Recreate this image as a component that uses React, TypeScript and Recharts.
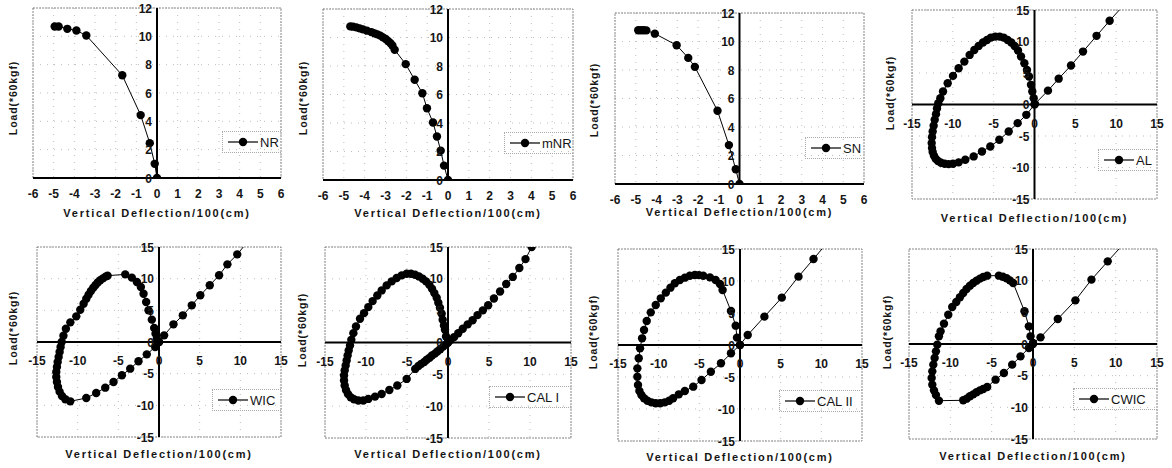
import { ScatterChart, Scatter, XAxis, YAxis, CartesianGrid, ReferenceLine, ReferenceArea, Legend } from 'recharts';

type Pt = [number, number];

// tick labels
const smallXTicks = [-6, -5, -4, -3, -2, -1, 0, 1, 2, 3, 4, 5, 6];
const smallYTicks = [0, 2, 4, 6, 8, 10, 12];
const loopTicks = [-15, -10, -5, 0, 5, 10, 15];

// series: [vertical deflection, load]
const NR: Pt[] = [
  [-4.95, 10.69], [-4.76, 10.69], [-4.34, 10.53], [-3.9, 10.41], [-3.42, 10.06],
  [-1.68, 7.25], [-0.79, 4.44], [-0.35, 2.46], [-0.11, 1.0], [0, 0],
];

const MNR: Pt[] = [
  [-4.69, 10.78], [-4.56, 10.76], [-4.4, 10.71], [-4.24, 10.64], [-4.08, 10.57],
  [-3.89, 10.48], [-3.68, 10.38], [-3.52, 10.29], [-3.39, 10.22], [-3.25, 10.13],
  [-3.12, 10.01], [-2.99, 9.89], [-2.88, 9.75], [-2.77, 9.61], [-2.67, 9.44],
  [-2.56, 9.14], [-2.03, 8.13], [-1.6, 7.03], [-1.23, 6.09], [-1.01, 5.04],
  [-0.72, 4.03], [-0.53, 3.05], [-0.35, 2.06], [-0.19, 1.01], [0, 0],
];

const SN: Pt[] = [
  [-4.88, 10.79], [-4.75, 10.79], [-4.62, 10.79], [-4.49, 10.78], [-4.08, 10.55],
  [-3.03, 9.74], [-2.47, 8.85], [-2.15, 8.22], [-1.06, 5.14], [-0.51, 2.73],
  [-0.18, 1.03], [0, 0],
];

const AL: Pt[] = [
  [0, 0], [-1.0, -1.64], [-2.06, -2.96], [-3.16, -4.28], [-4.31, -5.6], [-5.41, -6.66],
  [-6.43, -7.45], [-7.45, -8.24], [-8.47, -8.77], [-9.29, -9.19], [-9.98, -9.4],
  [-10.51, -9.46], [-11.0, -9.4], [-11.45, -9.24], [-11.82, -8.98], [-12.1, -8.61],
  [-12.31, -8.14], [-12.47, -7.55], [-12.55, -6.92], [-12.59, -6.13], [-12.55, -5.18],
  [-12.47, -4.28], [-12.35, -3.38], [-12.22, -2.43], [-12.06, -1.53], [-11.94, -0.63],
  [-11.78, 0.21], [-11.53, 1.0], [-11.2, 2.06], [-10.63, 3.38], [-9.98, 4.54],
  [-9.29, 5.76], [-8.59, 6.81], [-7.94, 7.87], [-7.37, 8.66], [-6.84, 9.3],
  [-6.31, 9.83], [-5.82, 10.25], [-5.33, 10.62], [-4.8, 10.78], [-4.27, 10.78],
  [-3.78, 10.62], [-3.29, 10.25], [-2.84, 9.83], [-2.43, 9.3], [-2.02, 8.56],
  [-1.65, 7.61], [-1.24, 6.55], [-0.92, 5.49], [-0.67, 4.44], [-0.43, 3.12],
  [-0.27, 2.06], [-0.1, 1.0], [0.06, 0.1], [1.65, 2.2], [2.96, 4.1], [4.47, 6.2],
  [5.94, 8.4], [7.6, 10.9], [9.2, 13.3], [11.5, 16.6],
];

const WIC: Pt[] = [
  [0, 0], [-0.47, -0.79], [-1.5, -1.95], [-2.52, -3.05], [-3.54, -4.21], [-4.56, -5.26],
  [-5.59, -6.32], [-6.61, -7.21], [-7.72, -8.05], [-8.94, -8.84], [-10.91, -9.37],
  [-11.52, -9.05], [-11.93, -8.53], [-12.22, -7.84], [-12.42, -7.11], [-12.55, -6.32],
  [-12.63, -5.53], [-12.63, -4.74], [-12.55, -3.95], [-12.46, -3.16], [-12.34, -2.37],
  [-12.22, -1.58], [-12.1, -0.79], [-11.97, 0], [-11.75, 1.0], [-11.45, 2.1],
  [-10.9, 3.1], [-10.17, 4.05], [-9.68, 5.1], [-9.27, 6.05], [-8.94, 6.84],
  [-8.66, 7.47], [-8.37, 8.05], [-8.08, 8.58], [-7.8, 9.0], [-7.51, 9.42],
  [-7.23, 9.74], [-6.9, 10.05], [-6.57, 10.32], [-6.32, 10.47], [-4.15, 10.68],
  [-3.34, 10.16], [-2.72, 9.47], [-2.23, 8.68], [-1.9, 7.63], [-1.58, 6.32],
  [-1.29, 5.0], [-0.88, 3.53], [-0.59, 2.21], [-0.43, 1.32], [-0.27, 0.53], [0, 0],
  [0.63, 1.05], [1.78, 2.79], [2.93, 4.21], [4.03, 5.79], [5.08, 7.37], [6.24, 8.95],
  [7.39, 10.53], [8.41, 12.26], [9.62, 13.84], [11.2, 16.3],
];

const CAL1: Pt[] = [
  [0, 0], [-0.25, -0.3], [-0.6, -0.65], [-0.95, -1.05], [-1.3, -1.4], [-1.6, -1.75],
  [-1.95, -2.05], [-2.25, -2.4], [-2.6, -2.7], [-2.9, -3.05], [-3.25, -3.35],
  [-3.6, -3.7], [-4.0, -4.15], [-5.04, -5.72], [-6.18, -6.76], [-7.15, -7.45],
  [-8.09, -8.08], [-8.9, -8.5], [-9.72, -8.86], [-10.33, -9.12], [-10.93, -9.12],
  [-11.46, -8.91], [-11.87, -8.6], [-12.2, -8.08], [-12.44, -7.45], [-12.6, -6.76],
  [-12.68, -5.98], [-12.68, -5.19], [-12.6, -4.4], [-12.48, -3.62], [-12.36, -2.83],
  [-12.24, -2.05], [-12.11, -1.26], [-11.95, -0.47], [-11.79, 0.42], [-11.54, 1.47],
  [-11.22, 2.52], [-10.73, 3.72], [-10.24, 4.61], [-9.72, 5.56], [-9.19, 6.5],
  [-8.62, 7.39], [-8.09, 8.18], [-7.48, 8.97], [-6.87, 9.6], [-6.26, 10.12],
  [-5.65, 10.54], [-5.04, 10.8], [-4.51, 10.8], [-4.02, 10.64], [-3.54, 10.38],
  [-3.09, 10.02], [-2.68, 9.6], [-2.28, 9.07], [-1.95, 8.44], [-1.67, 7.76],
  [-1.38, 7.03], [-1.18, 6.24], [-0.98, 5.45], [-0.77, 4.51], [-0.65, 3.57],
  [-0.49, 2.67], [-0.37, 1.99], [-0.24, 0.94], [0, 0], [0.3, 0.4], [0.75, 0.85],
  [1.25, 1.45], [1.8, 2.15], [2.4, 2.85], [3.0, 3.5], [3.6, 4.3], [4.25, 5.05],
  [4.9, 5.85], [5.6, 6.9], [6.35, 8.0], [7.1, 9.2], [7.9, 10.3], [8.7, 11.7],
  [9.45, 13.1], [10.2, 15.0],
];

const CAL2: Pt[] = [
  [0, 0], [-1.11, -1.3], [-2.34, -2.86], [-3.58, -4.17], [-4.73, -5.47], [-5.75, -6.51],
  [-6.78, -7.19], [-7.52, -7.71], [-8.22, -8.33], [-8.71, -8.7], [-9.25, -8.96],
  [-9.82, -9.11], [-10.36, -9.11], [-10.89, -8.96], [-11.38, -8.7], [-11.8, -8.33],
  [-12.12, -7.81], [-12.37, -7.19], [-12.54, -6.25], [-12.62, -4.95], [-12.62, -3.65],
  [-12.45, -2.08], [-12.29, -0.52], [-12.04, 1.04], [-11.8, 2.34], [-11.47, 3.75],
  [-10.97, 5.1], [-10.36, 6.25], [-9.74, 7.29], [-9.12, 8.18], [-8.55, 8.96],
  [-8.01, 9.64], [-7.4, 10.16], [-6.78, 10.52], [-6.17, 10.83], [-5.55, 10.94],
  [-5.05, 10.92], [-4.52, 10.83], [-3.7, 10.57], [-3.0, 10.16], [-2.47, 9.53],
  [-2.14, 8.59], [-1.11, 5.31], [-0.53, 3.02], [-0.37, 1.15], [0, 0],
  [0.95, 1.56], [3.0, 4.43], [5.14, 7.4], [7.19, 10.68], [9.04, 13.44], [11.2, 16.7],
];

const CWIC: Pt[] = [
  [0, 0], [-0.5, -0.63], [-1.51, -1.95], [-2.52, -3.26], [-3.52, -4.58], [-4.53, -5.63],
  [-5.54, -6.79], [-6.02, -7.11], [-6.42, -7.32], [-6.83, -7.63], [-7.23, -7.95],
  [-7.63, -8.26], [-8.03, -8.63], [-8.44, -8.89], [-11.38, -8.95], [-11.74, -8.05],
  [-11.98, -7.32], [-12.18, -6.42], [-12.26, -5.37], [-12.18, -4.32], [-12.06, -3.26],
  [-11.9, -2.21], [-11.74, -1.16], [-11.58, -0.1], [-11.38, 1.21], [-11.18, 2.0],
  [-10.77, 3.21], [-10.25, 4.63], [-9.77, 5.84], [-9.28, 6.63], [-8.84, 7.37],
  [-8.44, 8.05], [-8.04, 8.68], [-7.63, 9.21], [-7.23, 9.63], [-6.83, 10.0],
  [-6.42, 10.32], [-6.02, 10.58], [-5.54, 10.79], [-4.13, 10.79], [-3.64, 10.63],
  [-3.2, 10.37], [-2.8, 10.05], [-2.4, 9.63], [-1.03, 5.16], [-0.5, 2.79],
  [-0.3, 1.21], [0, 0.16], [0.91, 1.05], [3.0, 3.95], [5.13, 6.89], [7.07, 10.16],
  [9.04, 13.05], [11.3, 16.3],
];

const FONT = '"Liberation Sans", Arial, Helvetica, sans-serif';
const INK = '#151515';
const CELL_W = 293;
const CELL_H = 234;

type PanelCfg = {
  name: string;
  data: Pt[];
  loop: boolean;
  left: number; top: number;
  x0: number; x1: number; y0: number; y1: number;
  titleY: number;
  yLabelX: number; yLabelY: number;
  legendX: number; legendY: number;
};

const panels: PanelCfg[] = [
  { name: 'NR', data: NR, loop: false, left: 0, top: 0, x0: 33, x1: 281, y0: 8, y1: 178, titleY: 213, yLabelX: 13, yLabelY: 98, legendX: 228, legendY: 142 },
  { name: 'mNR', data: MNR, loop: false, left: 293, top: 0, x0: 323, x1: 573, y0: 9, y1: 180, titleY: 213, yLabelX: 303, yLabelY: 98, legendX: 510, legendY: 143 },
  { name: 'SN', data: SN, loop: false, left: 586, top: 0, x0: 615, x1: 864, y0: 13, y1: 184, titleY: 212, yLabelX: 594, yLabelY: 100, legendX: 811, legendY: 148 },
  { name: 'AL', data: AL, loop: true, left: 879, top: 0, x0: 912, x1: 1157, y0: 10, y1: 199, titleY: 218, yLabelX: 890, yLabelY: 93, legendX: 1104, legendY: 160 },
  { name: 'WIC', data: WIC, loop: true, left: 0, top: 234, x0: 37, x1: 281, y0: 247, y1: 437, titleY: 454, yLabelX: 13, yLabelY: 328, legendX: 218, legendY: 400 },
  { name: 'CAL I', data: CAL1, loop: true, left: 293, top: 234, x0: 325, x1: 571, y0: 247, y1: 438, titleY: 454, yLabelX: 302, yLabelY: 330, legendX: 495, legendY: 397 },
  { name: 'CAL II', data: CAL2, loop: true, left: 586, top: 234, x0: 618, x1: 862, y0: 249, y1: 441, titleY: 457, yLabelX: 593, yLabelY: 332, legendX: 785, legendY: 401 },
  { name: 'CWIC', data: CWIC, loop: true, left: 879, top: 234, x0: 909, x1: 1157, y0: 249, y1: 439, titleY: 456, yLabelX: 887, yLabelY: 332, legendX: 1079, legendY: 399 },
];

const Dot = (props: any) => <circle cx={props.cx} cy={props.cy} r={4.2} fill="#000" />;

function Panel({ cfg }: { cfg: PanelCfg }) {
  // axes take 1px each so that recharts still renders their ticks
  const margin = {
    left: cfg.x0 - cfg.left - 1,
    right: cfg.left + CELL_W - cfg.x1,
    top: cfg.y0 - cfg.top,
    bottom: cfg.top + CELL_H - cfg.y1 - 1,
  };
  const plotW = cfg.x1 - cfg.x0;
  const plotH = cfg.y1 - cfg.y0;
  const xDomain = cfg.loop ? [-15, 15] : [-6, 6];
  const yDomain = cfg.loop ? [-15, 15] : [0, 12];
  const xTicks = cfg.loop ? loopTicks : smallXTicks;
  const yTicks = cfg.loop ? loopTicks : smallYTicks;
  const plotTop = cfg.y0 - cfg.top;
  const plotLeft = cfg.x0 - cfg.left;
  const zeroY = cfg.loop ? plotTop + plotH / 2 : plotTop + plotH;
  const zeroX = plotLeft + plotW / 2;
  const points = cfg.data.map(([x, y]) => ({ x, y }));

  const xTick = (p: any) => (
    <text x={p.x} y={zeroY + (cfg.loop ? 23 : 20)} textAnchor="middle" fontSize={12} fontWeight="bold" fontFamily={FONT} fill={INK}>
      {p.payload.value}
    </text>
  );
  const yTick = (p: any) => (
    <text x={zeroX - 5} y={p.y + 4.5} textAnchor="end" fontSize={12} fontWeight="bold" fontFamily={FONT} fill={INK}>
      {p.payload.value}
    </text>
  );
  const lx = cfg.yLabelX - cfg.left;
  const ly = cfg.yLabelY - cfg.top;

  return (
    <div style={{ position: 'absolute', left: cfg.left, top: cfg.top, width: CELL_W, height: CELL_H }}>
      <ScatterChart width={CELL_W} height={CELL_H} margin={margin}>
        <CartesianGrid stroke="#bdbdbd" strokeDasharray="1 6" />
        <ReferenceArea x1={xDomain[0]} x2={xDomain[1]} y1={yDomain[0]} y2={yDomain[1]} fill="none" stroke="#8a8a8a" strokeDasharray="2 1" />
        <XAxis
          type="number"
          dataKey="x"
          domain={xDomain}
          ticks={xTicks}
          interval={0}
          allowDataOverflow
          height={1}
          axisLine={false}
          tickLine={false}
          tick={xTick}
          label={{
            content: () => (
              <text x={zeroX} y={cfg.titleY - cfg.top + 4} textAnchor="middle" fontSize={11} fontWeight="bold" fontFamily={FONT} letterSpacing={1.75} fill={INK}>
                Vertical Deflection/100(cm)
              </text>
            ),
          }}
        />
        <YAxis
          type="number"
          dataKey="y"
          domain={yDomain}
          ticks={yTicks}
          interval={0}
          allowDataOverflow
          width={1}
          axisLine={false}
          tickLine={false}
          tick={yTick}
          label={{
            content: () => (
              <text x={lx} y={ly} transform={`rotate(-90 ${lx} ${ly})`} textAnchor="middle" dominantBaseline="central" fontSize={10.5} fontWeight="bold" fontFamily={FONT} letterSpacing={0.9} fill={INK}>
                Load(*60kgf)
              </text>
            ),
          }}
        />
        <ReferenceLine x={0} stroke="#000" strokeWidth={2} />
        <ReferenceLine y={0} stroke="#000" strokeWidth={2} />
        <Scatter
          name={cfg.name}
          data={points}
          line={{ stroke: '#000', strokeWidth: 1 }}
          lineType="joint"
          shape={Dot}
          isAnimationActive={false}
        />
        <Legend
          layout="horizontal"
          verticalAlign="middle"
          align="center"
          wrapperStyle={{
            left: cfg.legendX - cfg.left - 6,
            top: cfg.legendY - cfg.top - 11,
            width: cfg.x1 - cfg.legendX + 6,
            height: 22,
            borderTop: '1px dotted #aaa',
            borderLeft: '1px dotted #aaa',
            borderBottom: '1px dotted #aaa',
            boxSizing: 'border-box',
          }}
          content={() => (
            <svg width={cfg.x1 - cfg.legendX + 4} height={20} style={{ display: 'block' }}>
              <line x1={5} y1={10} x2={35} y2={10} stroke="#000" strokeWidth={1.2} />
              <circle cx={20} cy={10} r={4.2} fill="#000" />
              <text x={37} y={14.5} fontSize={13} fontFamily={FONT} fill={INK}>
                {cfg.name}
              </text>
            </svg>
          )}
        />
      </ScatterChart>
    </div>
  );
}

export default function App() {
  return (
    <div style={{ position: 'absolute', left: 0, top: 0, width: 1172, height: 468, background: '#fff', overflow: 'hidden' }}>
      {panels.map((p) => (
        <Panel key={p.name} cfg={p} />
      ))}
    </div>
  );
}
